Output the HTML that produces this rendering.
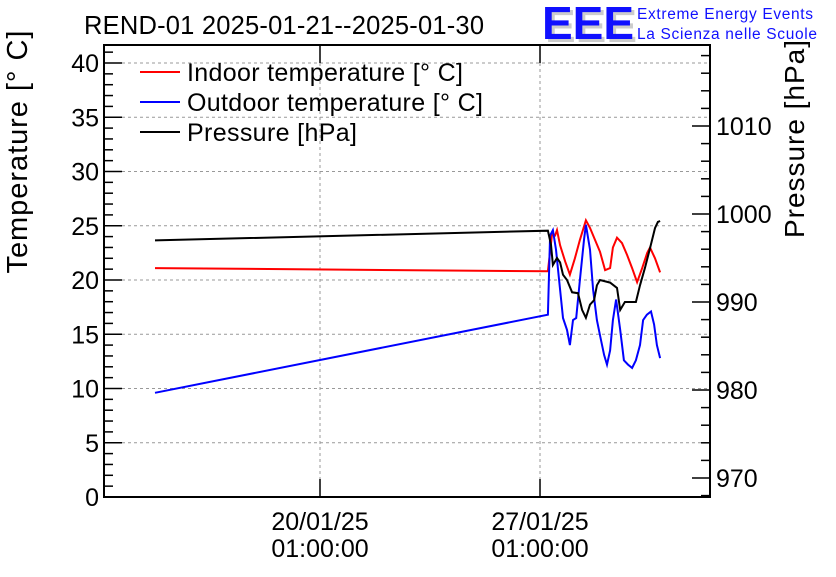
<!DOCTYPE html>
<html><head><meta charset="utf-8"><style>
body{margin:0;background:#fff;}
svg text{font-family:"Liberation Sans",sans-serif;}
</style></head><body>
<svg id="c" width="836" height="572" xmlns="http://www.w3.org/2000/svg">
<rect width="836" height="572" fill="#fff"/>
<text x="84" y="34" font-size="25.5" textLength="400">REND-01 2025-01-21--2025-01-30</text>
<g>
<text x="545" y="42" font-size="46" fill="#ccc" font-weight="bold">EEE</text>
<text x="542" y="39" font-size="46" fill="#1010ff" font-weight="bold">EEE</text>
<text x="637" y="19" font-size="15.5" fill="#1010ff" textLength="176">Extreme Energy Events</text>
<text x="637" y="39" font-size="15.5" fill="#1010ff" textLength="180">La Scienza nelle Scuole</text>
</g>
<g id="grid"></g><g id="axes"></g><g id="series"></g>
<text transform="translate(27,152) rotate(-90)" text-anchor="middle" font-size="29" textLength="243">Temperature [° C]</text>
<text transform="translate(804,139) rotate(-90)" text-anchor="middle" font-size="28" textLength="198">Pressure [hPa]</text>
<g>
<g><line x1="140" y1="72" x2="180" y2="72" stroke="#f00" stroke-width="2"/><text x="187" y="81" font-size="25" textLength="276">Indoor temperature [° C]</text></g>
<g><line x1="140" y1="102" x2="180" y2="102" stroke="#00f" stroke-width="2"/><text x="187" y="111" font-size="25" textLength="296">Outdoor temperature [° C]</text></g>
<g><line x1="140" y1="132" x2="180" y2="132" stroke="#000" stroke-width="2"/><text x="187" y="141" font-size="25" textLength="170">Pressure [hPa]</text></g>
</g>
</svg>
<script>
// time in days since 20/01/25 01:00
const indoorT=[-5.25,7.25,7.38,7.48,7.54,7.64,7.80,7.95,8.11,8.27,8.46,8.59,8.75,8.91,9.07,9.23,9.32,9.45,9.61,9.77,9.93,10.09,10.25,10.41,10.50,10.66,10.82];
const indoorV=[21.1,20.8,24.2,24.1,24.6,23.2,21.7,20.5,22.0,23.7,25.5,24.8,23.7,22.6,20.9,21.1,23.0,23.9,23.4,22.3,21.1,19.8,21.1,22.5,23.0,22.0,20.7];
const outdoorT=[-5.25,7.25,7.32,7.41,7.51,7.64,7.73,7.86,7.95,8.05,8.15,8.27,8.40,8.46,8.59,8.69,8.81,8.91,9.04,9.13,9.23,9.32,9.42,9.55,9.67,9.80,9.93,10.05,10.18,10.28,10.40,10.53,10.63,10.72,10.82];
const outdoorV=[9.6,16.8,24.1,24.6,22.8,19.1,16.5,15.4,14.0,16.3,16.5,20.0,23.7,25.1,22.8,19.1,16.3,14.9,13.1,12.2,13.5,16.3,18.2,15.4,12.6,12.2,11.9,12.6,14.0,16.3,16.8,17.1,15.9,14.0,12.8];
const pressT=[-5.25,7.25,7.35,7.41,7.54,7.64,7.73,7.86,8.02,8.21,8.34,8.46,8.59,8.72,8.81,8.91,9.23,9.45,9.55,9.70,10.05,10.18,10.34,10.50,10.66,10.75,10.82];
const pressV=[997.0,998.1,996.5,994.2,995.0,994.5,993.1,992.5,991.1,991.0,989.1,988.2,989.7,990.2,991.9,992.5,992.2,991.6,989.1,990.0,990.0,991.9,993.9,996.1,998.4,999.1,999.2];
const yTicks=[0,5,10,15,20,25,30,35,40];
const y2Ticks=[970,980,990,1000,1010];
const xTicks=[0,7];
const xTickLabels=["20/01/25","27/01/25"];

const L=104,R=710,T=45,B=497;
const xs=t=>320+t*31.43;
const ys=v=>B-v*10.85;
const yp=p=>214-(p-1000)*8.8;
const NS="http://www.w3.org/2000/svg";
function mk(p,tag,attrs){const e=document.createElementNS(NS,tag);for(const k in attrs)e.setAttribute(k,attrs[k]);p.appendChild(e);return e;}
const grid=document.getElementById('grid'),axes=document.getElementById('axes'),ser=document.getElementById('series');
yTicks.forEach(v=>{const g=mk(grid,'line',{x1:L,x2:R,y1:ys(v),y2:ys(v),stroke:'#999','stroke-dasharray':'3,3','stroke-width':1});

});
xTicks.forEach(t=>{const g=mk(grid,'line',{x1:xs(t),x2:xs(t),y1:T,y2:B,stroke:'#999','stroke-dasharray':'3,3','stroke-width':1});

});
const fr=mk(axes,'rect',{x:L,y:T,width:R-L,height:B-T,fill:'none',stroke:'#000','stroke-width':2});


for(let v=0;v<=41;v++){const big=v%5==0;mk(axes,'line',{x1:L,x2:L+(big?18:9),y1:ys(v),y2:ys(v),stroke:'#000','stroke-width':1.5});}
yTicks.forEach(v=>{const t=mk(axes,'text',{x:L-5,y:ys(v)+9,'text-anchor':'end','font-size':25});t.textContent=v;

});
for(let p=968;p<=1018;p+=2){const big=p%10==0;mk(axes,'line',{x1:R,x2:R-(big?18:9),y1:yp(p),y2:yp(p),stroke:'#000','stroke-width':1.5});}
y2Ticks.forEach(p=>{const t=mk(axes,'text',{x:R+6,y:yp(p)+9,'font-size':25});t.textContent=p;

});
xTicks.forEach((t,i)=>{mk(axes,'line',{x1:xs(t),x2:xs(t),y1:B,y2:B-18,stroke:'#000','stroke-width':1.5});
mk(axes,'line',{x1:xs(t),x2:xs(t),y1:T,y2:T+18,stroke:'#000','stroke-width':1.5});
const a=mk(axes,'text',{x:xs(t),y:530,'text-anchor':'middle','font-size':25});a.textContent=xTickLabels[i];


const b=mk(axes,'text',{x:xs(t),y:557,'text-anchor':'middle','font-size':25});b.textContent='01:00:00';

});
function line(ts,vs,f,col,name){const d=ts.map((t,i)=>(i?'L':'M')+xs(t).toFixed(1)+','+f(vs[i]).toFixed(1)).join('');
const p=mk(ser,'path',{d:d,fill:'none',stroke:col,'stroke-width':2});

}
line(indoorT,indoorV,ys,'#f00','indoor-temperature-line');
line(outdoorT,outdoorV,ys,'#00f','outdoor-temperature-line');
line(pressT,pressV,yp,'#000','pressure-line');
</script>
</body></html>
